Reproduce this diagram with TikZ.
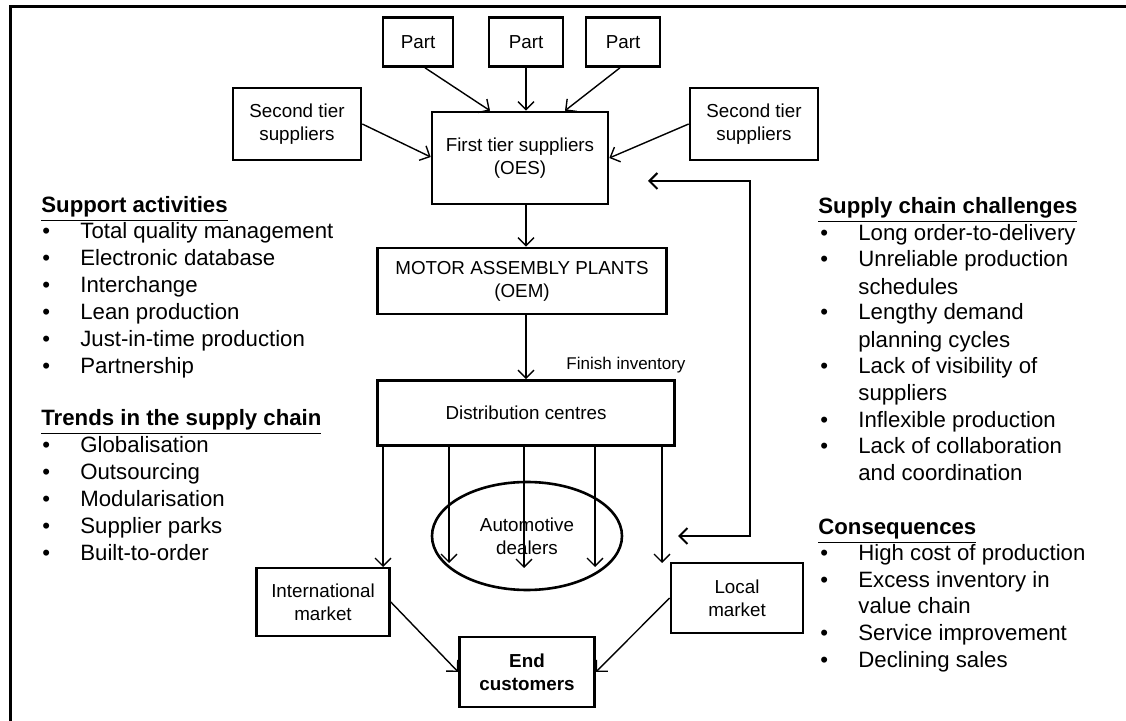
\documentclass[tikz,border=0pt]{standalone}
\usepackage{fontspec}
\setmainfont{Liberation Sans}
\usetikzlibrary{shapes.geometric, arrows.meta, calc}
\newcommand{\boxfont}{\fontsize{9.4}{11.5}\selectfont}
\newcommand{\listfont}{\fontsize{11.1}{13.4}\selectfont}
\newcommand{\blt}{\makebox[19pt][l]{\textbullet}}
\newcommand{\nob}{\makebox[19pt][l]{}}
\tikzstyle{box} = [rectangle, draw, line width=1.3pt, align=center, font=\boxfont, inner sep=1pt]
\tikzstyle{dealer} = [ellipse, draw, line width=1.3pt, align=center, font=\boxfont, minimum width=95pt, minimum height=54pt, inner sep=0]
\tikzstyle{arrow} = [line width=0.7pt, ->, >={Straight Barb[length=4pt,width=8pt]}]
\tikzstyle{item} = [anchor=base west, inner sep=0, font=\listfont]

\begin{document}
\begin{tikzpicture}[x=0.5pt,y=-0.5pt]
\useasboundingbox (0,0) rectangle (1126,721);
\draw[line width=1.5pt] (10,721) -- (10,7) -- (1126,7);

% suppliers
\node[box, minimum width=35pt, minimum height=24.5pt] (p1) at (418,42) {Part};
\node[box, minimum width=37pt, minimum height=24.5pt] (p2) at (526,42) {Part};
\node[box, minimum width=37pt, minimum height=24.5pt] (p3) at (623,42) {Part};
\node[box, minimum width=64pt, minimum height=36pt] (st1) at (297,124) {Second tier\\suppliers};
\node[box, minimum width=64pt, minimum height=36pt] (st2) at (754,124) {Second tier\\suppliers};
\node[box, minimum width=88pt, minimum height=46pt] (fts) at (520,158) {First tier suppliers\\(OES)};

% plants and distribution
\node[box, minimum width=144.5pt, minimum height=33pt] (oem) at (522,281) {MOTOR ASSEMBLY PLANTS\\(OEM)};
\node[font=\fontsize{8.5}{10}\selectfont, inner sep=0] (fin) at (626,365) {Finish inventory};
\node[box, minimum width=148.5pt, minimum height=32.5pt] (dc) at (526,413) {Distribution centres};
\node[dealer] (ad) at (527,536) {Automotive\\dealers};
\node[box, minimum width=66.5pt, minimum height=34pt] (intl) at (323,602) {International\\market};
\node[box, minimum width=66pt, minimum height=35pt] (loc) at (737,598) {Local\\market};
\node[box, font=\boxfont\bfseries, minimum width=67.5pt, minimum height=35pt] (endc) at (527,672) {End\\customers};

\draw[arrow] ($(p1.south)+(7,0)$) -- ($(fts.north)+(-30,0)$);
\draw[arrow] (p2.south) -- (p2.south |- fts.north);
\draw[arrow] ($(p3.south)+(-3,0)$) -- ($(fts.north)+(45,0)$);
\draw[arrow] (st1.east) -- ($(fts.west)+(0,-1)$);
\draw[arrow] (st2.west) -- (fts.east);
\draw[arrow] (fts.south -| p2) -- (oem.north -| p2);
\draw[arrow] (oem.south -| p2) -- (dc.north -| p2);
% down to dealers and markets
\foreach \dx/\ey [count=\i] in {-143/567, -77/563, -2/568, 69/567, 136/563}{
  \coordinate (d\i) at ({526+\dx},\ey);
  \draw[arrow] (dc.south -| d\i) -- (d\i);
}
\draw[arrow] (intl.east) -- (endc.west);
\draw[arrow] (loc.west) -- (endc.east);
% feedback
\coordinate (fb1) at (648,181);
\coordinate (fb2) at (678,536);
\draw[arrow, <->, line width=1pt] (fb1) -- ++(102,0) |- (fb2);

% left lists
\node[item] (sa) at (41,213) {\underline{\textbf{Support activities}}};
\foreach \txt [count=\i] in {Total quality management, Electronic database, Interchange, Lean production, Just-in-time production, Partnership}
  \node[item] (sa\i) at (42,{212+27*\i}) {\blt\txt};
\node[item] (tr) at (41,426) {\underline{\textbf{Trends in the supply chain}}};
\foreach \txt [count=\i] in {Globalisation, Outsourcing, Modularisation, Supplier parks, Built-to-order}
  \node[item] (tr\i) at (42,{426+27*\i}) {\blt\txt};

% right lists
\node[item] (ch) at (818,214) {\underline{\textbf{Supply chain challenges}}};
\foreach \y/\txt [count=\i] in {241/\blt Long order-to-delivery, 267/\blt Unreliable production, 295/\nob schedules, 320/\blt Lengthy demand, 348/\nob planning cycles, 374/\blt Lack of visibility of, 401/\nob suppliers, 428/\blt Inflexible production, 454/\blt Lack of collaboration, 481/\nob and coordination}
  \node[item] (ch\i) at (820,\y) {\txt};
\node[item] (co) at (818,535) {\underline{\textbf{Consequences}}};
\foreach \y/\txt [count=\i] in {561/\blt High cost of production, 588/\blt Excess inventory in, 614/\nob value chain, 641/\blt Service improvement, 668/\blt Declining sales}
  \node[item] (co\i) at (820,\y) {\txt};
\end{tikzpicture}
\end{document}
